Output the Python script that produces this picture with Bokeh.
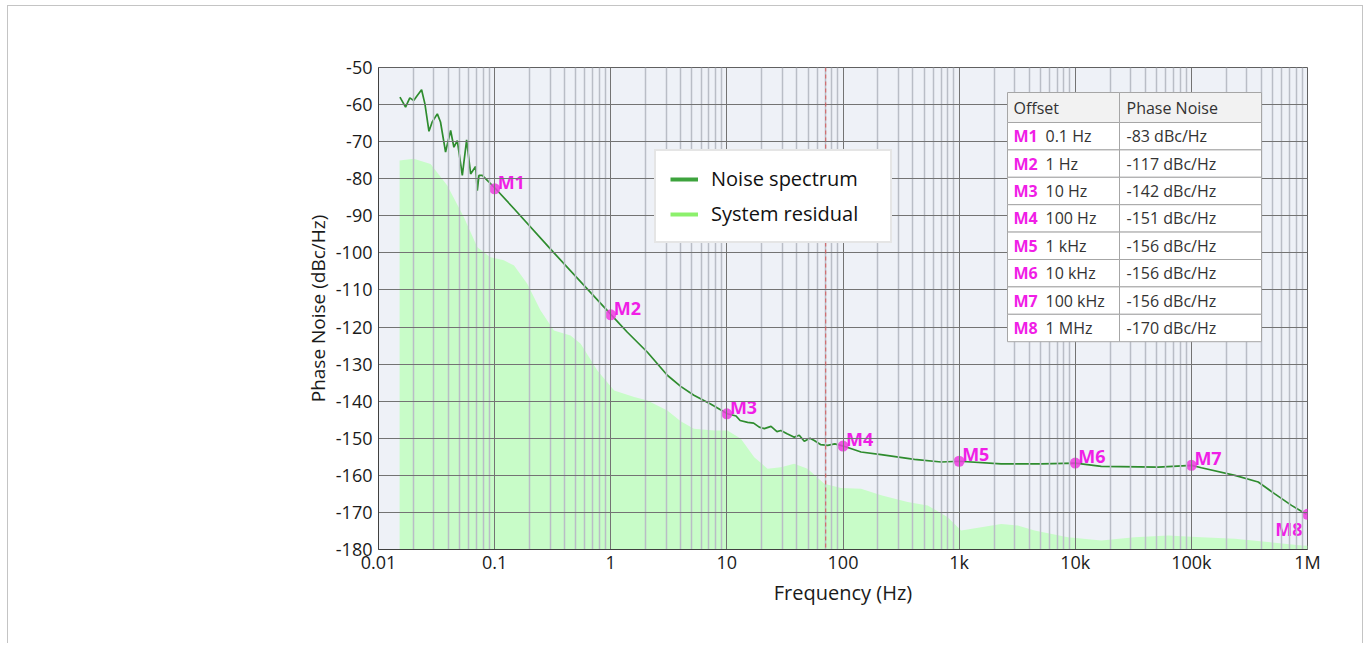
from bokeh.plotting import figure
from bokeh.models import (Range1d, FixedTicker, Span, BoxAnnotation, Label, Legend,
                          LegendItem, CustomJSTickFormatter)
from bokeh.core.properties import value
from bokeh.embed import file_html
from bokeh.resources import INLINE

FONT = "Open Sans"
NAN = float("nan")

# ---------------- data ----------------
noise_f = [0.0153, 0.0171, 0.0186, 0.0201, 0.0215, 0.0235, 0.0251, 0.0272, 0.0290, 0.0321,
           0.0342, 0.0378, 0.0418, 0.0446, 0.0477, 0.0527, 0.0574, 0.0621, 0.0686, 0.0709,
           0.0733, 0.0783, 0.102, 0.147, 0.32, 1.01, 1.39, 2.07, 3.07, 4.0, 5.2, 7.3,
           10.1, 12, 13, 15.1, 17, 19, 21, 24, 27, 29.2, 33, 38.1, 42, 46.4, 52, 56.6, 64,
           73.8, 85, 100.7, 143, 213, 412, 700, 1007, 2300, 5090, 10000, 16760, 51600,
           101000, 122000, 237000, 376000, 523000, 728000, 980000]
noise_db = [-58.0, -60.7, -58.2, -58.9, -57.6, -56.0, -59.8, -67.2, -64.7, -62.5,
            -64.7, -72.8, -67.0, -71.5, -69.7, -79.1, -69.5, -78.7, -76.7, -83.2,
            -79.1, -79.1, -82.7, -88.1, -99.8, -116.7, -121.4, -126.8, -133.0, -136.0, -138.4, -140.8,
            -143.4, -144.0, -145.2, -145.7, -145.9, -147.0, -147.4, -146.8, -148.2, -147.9, -148.8, -149.7, -149.2,
            -150.8, -150.0, -150.6, -151.7,
            -151.9, -151.5, -152.1, -153.7, -154.4, -155.7, -156.4, -156.2, -156.9, -156.9, -156.7, -157.6, -157.8,
            -157.3, -157.95, -160.0, -161.8, -165.0, -168.1, -170.5]

res_f = [0.0152, 0.0201, 0.0281, 0.0391, 0.0544, 0.071, 0.092, 0.120, 0.147, 0.191, 0.248,
         0.324, 0.45, 0.551, 0.767, 1.07, 1.59, 2.07, 3.07, 4.0, 5.2, 7.8, 10.1, 13.2, 17.2,
         22.4, 29.2, 38, 49.5, 69, 96, 143, 213, 360, 536, 798, 1040, 1550, 2300, 3200, 4460,
         8650, 16760, 32400, 63000, 122000, 237000, 458000, 888000, 1000000]
res_db = [-75.1, -74.6, -76.0, -81.8, -90.4, -98.5, -101.2, -102.0, -103.4, -108.3, -115.5,
          -120.9, -122.3, -124.5, -131.7, -137.1, -138.9, -139.8, -142.5, -145.4, -147.4, -147.9, -147.9, -150.1, -155.1,
          -158.2, -157.8, -156.9, -158.2, -162.3, -163.4, -163.6, -165.4, -167.2, -168.1, -171.3, -174.9, -174.0, -173.1, -173.5, -174.9,
          -176.7, -177.6, -176.7, -176.2, -176.7, -177.1, -178.0, -178.9, -179.0]

marker_names = ["M1", "M2", "M3", "M4", "M5", "M6", "M7", "M8"]
marker_f = [0.1, 1, 10, 100, 1e3, 1e4, 1e5, 1e6]
marker_db = [-82.7, -116.7, -143.4, -152.1, -156.2, -156.7, -157.3, -170.5]
offset_labels = ["0.1 Hz", "1 Hz", "10 Hz", "100 Hz", "1 kHz", "10 kHz", "100 kHz", "1 MHz"]
pn_labels = ["-83 dBc/Hz", "-117 dBc/Hz", "-142 dBc/Hz", "-151 dBc/Hz", "-156 dBc/Hz",
             "-156 dBc/Hz", "-156 dBc/Hz", "-170 dBc/Hz"]
table_header = ["Offset", "Phase Noise"]

x_ticks = [0.01, 0.1, 1, 10, 100, 1e3, 1e4, 1e5, 1e6]
x_tick_labels = ["0.01", "0.1", "1", "10", "100", "1k", "10k", "100k", "1M"]
y_ticks = [-180, -170, -160, -150, -140, -130, -120, -110, -100, -90, -80, -70, -60, -50]
cursor_freq = 71

X_MIN, X_MAX = 0.01, 1e6
Y_MIN, Y_MAX = -180, -50

# ---------------- figure ----------------
p = figure(width=1356, height=638, x_axis_type="log",
           x_range=Range1d(X_MIN, X_MAX), y_range=Range1d(Y_MIN, Y_MAX),
           output_backend="svg", toolbar_location=None,
           min_border_left=370, min_border_right=57, min_border_top=61, min_border_bottom=95)
p.margin = (5, 0, 0, 7)
p.background_fill_color = "#eef1f7"
p.border_fill_color = "white"
p.outline_line_color = "#606060"
p.styles = {"border": "1px solid #c4c4c4", "border-bottom": "none"}

minor = [k * 10.0 ** d for d in range(-2, 6) for k in range(2, 10)]
p.xaxis.ticker = FixedTicker(ticks=x_ticks, minor_ticks=minor)
p.xaxis.formatter = CustomJSTickFormatter(args=dict(tvals=x_ticks, tlabels=x_tick_labels), code="""
for (let i = 0; i < tvals.length; i++) {
  if (Math.abs(Math.log10(tick) - Math.log10(tvals[i])) < 1e-6) return tlabels[i];
}
return "";
""")
p.yaxis.ticker = FixedTicker(ticks=y_ticks)
p.yaxis.formatter = CustomJSTickFormatter(code="return tick.toFixed(0);")

for ax in (p.xaxis, p.yaxis):
    ax.major_tick_out = 0
    ax.major_tick_in = 0
    ax.minor_tick_out = 0
    ax.minor_tick_in = 0
    ax.axis_line_color = "#404040"
    ax.major_label_text_font = FONT
    ax.major_label_text_font_size = "18px"
    ax.major_label_text_color = "#1a1a1a"
    ax.axis_label_text_font = FONT
    ax.axis_label_text_font_style = "normal"
    ax.axis_label_text_color = "#1a1a1a"
p.xaxis.axis_label = "Frequency (Hz)"
p.yaxis.axis_label = "Phase Noise (dBc/Hz)"
p.xaxis.axis_label_text_font_size = "20px"
p.yaxis.axis_label_text_font_size = "19px"
p.xaxis.major_label_standoff = 0
p.yaxis.major_label_standoff = 6
p.xaxis.axis_label_standoff = 2
p.yaxis.axis_label_standoff = 2

p.xgrid.grid_line_color = "#737373"
p.xgrid.minor_grid_line_color = "#b9bdc6"
p.xgrid.minor_grid_line_width = 1.5
p.ygrid.grid_line_color = "#737373"
p.xgrid.level = "glyph"
p.ygrid.level = "glyph"

# system residual fill
p.varea(x=res_f, y1=Y_MIN, y2=res_db, fill_color="#c8fcc8", level="underlay")

# cursor line
p.add_layout(Span(location=cursor_freq, dimension="height", line_color="#d85a5a",
                  line_dash="4 3", line_width=1))

# noise spectrum
p.line(noise_f, noise_db, line_color="#2e8c2e", line_width=1.7)

# markers
p.scatter(marker_f, marker_db, size=11, fill_color="#f03ce0", fill_alpha=0.85, line_color=None)
p.text(x=marker_f[:-1], y=marker_db[:-1], text=marker_names[:-1], x_offset=3, y_offset=-7,
       text_align="left", text_baseline="alphabetic", text_color="#f01ee6",
       text_font=value(FONT), text_font_style="bold", text_font_size="18px")
p.text(x=marker_f[-1:], y=marker_db[-1:], text=marker_names[-1:], x_offset=-5, y_offset=15,
       text_align="right", text_baseline="alphabetic", text_color="#f01ee6",
       text_font=value(FONT), text_font_style="bold", text_font_size="18px")

# legend (line glyphs only; placeholder renderers carry no data)
leg_noise = p.line(x=[NAN], y=[NAN], line_color="#3da33d", line_width=4)
leg_res = p.line(x=[NAN], y=[NAN], line_color="#8cf06c", line_width=4)
legend = Legend(items=[LegendItem(label="Noise spectrum", renderers=[leg_noise]),
                       LegendItem(label="System residual", renderers=[leg_res])],
                location=(276, 306), margin=0, padding=14, spacing=8,
                glyph_width=28, glyph_height=22, label_height=22, label_width=165,
                label_standoff=13, border_line_color="#cccccc", border_line_width=2,
                background_fill_color="white", background_fill_alpha=1.0,
                label_text_font=FONT, label_text_font_size="20px", label_text_color="#111111")
p.add_layout(legend)

# table (screen units relative to the plot frame)
TBL_L, TBL_MID, TBL_R = 629, 741, 883
TBL_TOP, HDR_H, ROW_H = 457, 30, 27.4
CELL_LINE = dict(line_color="#a6a6a6", line_alpha=1.0, line_width=1, line_dash="solid")
UNITS = dict(left_units="screen", right_units="screen", top_units="screen", bottom_units="screen")

def cell(l, r, t, b, fill):
    p.add_layout(BoxAnnotation(left=l, right=r, top=t, bottom=b, fill_color=fill,
                               fill_alpha=1.0, **CELL_LINE, **UNITS))

cell(TBL_L, TBL_MID, TBL_TOP, TBL_TOP - HDR_H, "#f2f2f2")
cell(TBL_MID, TBL_R, TBL_TOP, TBL_TOP - HDR_H, "#f2f2f2")
for i in range(len(marker_names)):
    t = TBL_TOP - HDR_H - i * ROW_H
    cell(TBL_L, TBL_MID, t, t - ROW_H, "white")
    cell(TBL_MID, TBL_R, t, t - ROW_H, "white")

def tlabel(x, y, text, color="#333333", style="normal"):
    p.add_layout(Label(x=x, y=y, x_units="screen", y_units="screen", text=text,
                       text_font=FONT, text_font_size="16px", text_color=color,
                       text_font_style=style, text_baseline="middle", text_align="left"))

tlabel(TBL_L + 6, TBL_TOP - HDR_H / 2, table_header[0])
tlabel(TBL_MID + 7, TBL_TOP - HDR_H / 2, table_header[1])
for i, (nm, off, pn) in enumerate(zip(marker_names, offset_labels, pn_labels)):
    yc = TBL_TOP - HDR_H - i * ROW_H - ROW_H / 2
    tlabel(TBL_L + 6, yc, nm, color="#f01ee6", style="bold")
    tlabel(TBL_L + 38, yc, off)
    tlabel(TBL_MID + 7, yc, pn)

open("out.html", "w").write(file_html(p, INLINE))
